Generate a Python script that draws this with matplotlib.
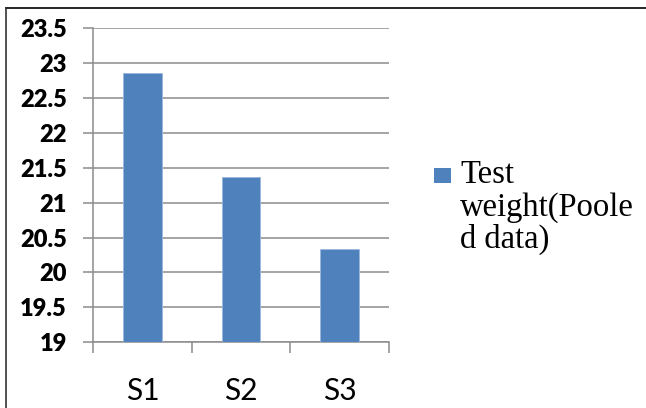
import matplotlib.pyplot as plt
from matplotlib.lines import Line2D
from matplotlib.patches import Rectangle

W, H = 646, 408

categories = ["S1", "S2", "S3"]
values = [22.85, 21.37, 20.34]
y_ticks = [19, 19.5, 20, 20.5, 21, 21.5, 22, 22.5, 23, 23.5]
y_labels = ["19", "19.5", "20", "20.5", "21", "21.5", "22", "22.5", "23", "23.5"]
legend_lines = ["Test", "weight(Poole", "d data)"]

BAR_COLOR = "#4f81bd"
GRID_COLOR = "#8c8c8c"


def fx(px):
    return px / W


def fy(py):
    return 1 - py / H


fig = plt.figure(figsize=(W / 100, H / 100), dpi=100)
fig.patch.set_facecolor("white")

ax = fig.add_axes([fx(93.3), fy(342.3), fx(388.7) - fx(93.3), fy(28) - fy(342.3)])
x = range(len(categories))
ax.bar(x, values, width=0.39, color=BAR_COLOR, edgecolor="#9bb8de",
       linewidth=0.6, zorder=3)

ax.set_xlim(-0.5, len(categories) - 0.5)
ax.set_ylim(y_ticks[0], y_ticks[-1])
ax.set_yticks(y_ticks)
ax.set_yticklabels(y_labels, fontfamily="Lato", fontweight="heavy",
                   fontsize=17, color="black")
ax.yaxis.grid(True, color=GRID_COLOR, linewidth=1.1, zorder=0)

ax.set_xticks(list(x))
ax.set_xticklabels(categories, fontfamily="Lato", fontsize=21.5, color="black")
ax.set_xticks([i - 0.5 for i in range(len(categories) + 1)], minor=True)
ax.tick_params(axis="x", which="major", length=0, pad=25)
ax.tick_params(axis="x", which="minor", length=8, width=1.1, color=GRID_COLOR,
               direction="out")
ax.tick_params(axis="y", length=7, width=1.1, color=GRID_COLOR, pad=12)

for side in ["top", "right"]:
    ax.spines[side].set_visible(False)
for side in ["left", "bottom"]:
    ax.spines[side].set_color(GRID_COLOR)
    ax.spines[side].set_linewidth(1.1)

# legend, drawn by hand
fig.patches.append(Rectangle((fx(433.5), fy(182.5)), fx(17.5), fy(168) - fy(182.5),
                             transform=fig.transFigure, facecolor=BAR_COLOR,
                             edgecolor="none"))
for i, line in enumerate(legend_lines):
    fig.text(fx(460), fy(183 + i * 32.5), line, fontfamily="Liberation Serif",
             fontsize=23.5, va="baseline", ha="left", color="black")

# outer frame (top and left only)
fig.lines.append(Line2D([fx(6), 1], [fy(8), fy(8)], transform=fig.transFigure,
                        color="black", linewidth=1.2))
fig.lines.append(Line2D([fx(6), fx(6)], [fy(8), 0], transform=fig.transFigure,
                        color="#333333", linewidth=1.2))

fig.savefig("out.png", dpi=100)
